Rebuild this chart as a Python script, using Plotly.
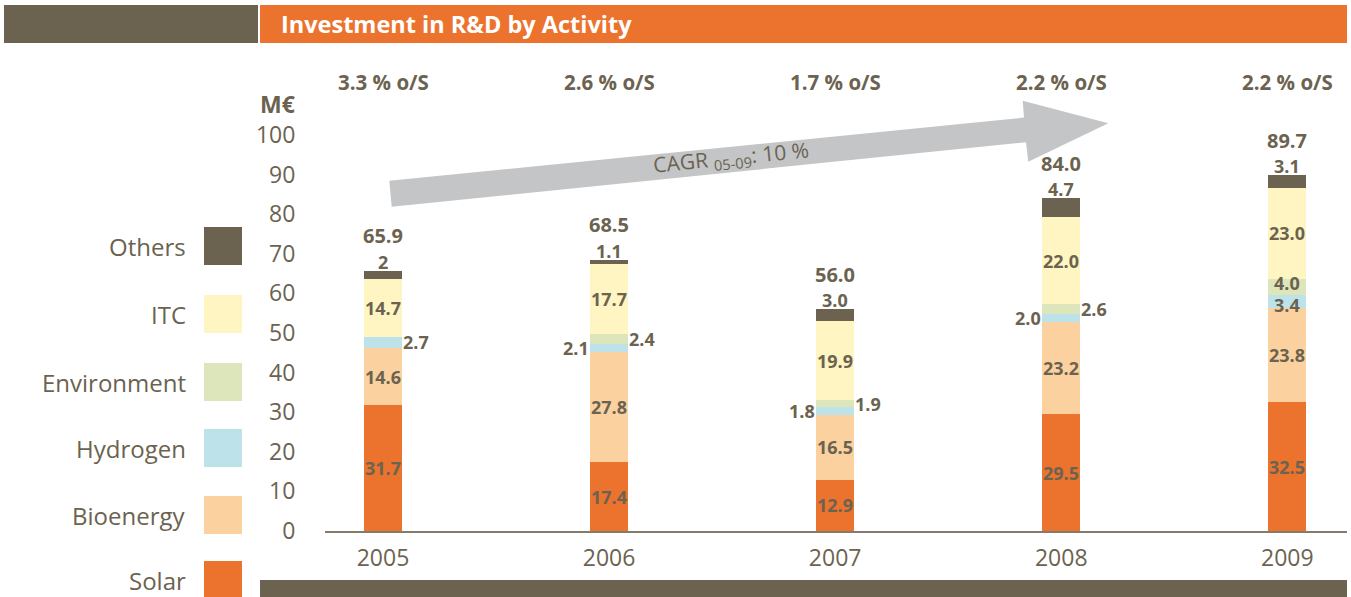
import plotly.graph_objects as go

years = ["2005", "2006", "2007", "2008", "2009"]
solar = [31.7, 17.4, 12.9, 29.5, 32.5]
bioenergy = [14.6, 27.8, 16.5, 23.2, 23.8]
hydrogen = [2.7, 2.1, 1.8, 2.0, 3.4]
environment = [0.0, 2.4, 1.9, 2.6, 4.0]
itc = [14.7, 17.7, 19.9, 22.0, 23.0]
others = [2.0, 1.1, 3.0, 4.7, 3.1]
others_labels = ["2", "1.1", "3.0", "4.7", "3.1"]
totals = [65.9, 68.5, 56.0, 84.0, 89.7]
share_of_sales = ["3.3 % o/S", "2.6 % o/S", "1.7 % o/S", "2.2 % o/S", "2.2 % o/S"]
cagr_text = "CAGR <sub>05-09</sub>: 10 %"
title = "Investment in R&D by Activity"

series = [
    ("Solar", solar, "#EC732E"),
    ("Bioenergy", bioenergy, "#FBD29F"),
    ("Hydrogen", hydrogen, "#BEE2E9"),
    ("Environment", environment, "#DDE6BB"),
    ("ITC", itc, "#FEF5C2"),
    ("Others", others, "#6B6350"),
]

TXT = "#6B6350"
FONT = "Open Sans"
W, H = 1351, 597


def px(x):
    return x / W


def py(y):
    return 1 - y / H


fig = go.Figure()
for name, vals, col in series:
    fig.add_trace(go.Bar(
        x=years, y=vals, name=name, marker_color=col, marker_line_width=0,
        width=0.168, showlegend=False, hoverinfo="x+y+name",
    ))

ann = []
shapes = []

# segment labels (category axis -> annotation x is the category index)
for i, yr in enumerate(years):
    base = 0.0
    cum = {}
    for name, vals, col in series:
        cum[name] = (base, base + vals[i])
        base += vals[i]
    top = base
    for name, vals, col in series:
        v = vals[i]
        if v <= 0 or name == "Others":
            continue
        lo, hi = cum[name]
        mid = (lo + hi) / 2
        if v >= 3:
            nudge = 0
            if v < 5 and name == "Hydrogen":
                nudge = -4
            elif v < 5 and name == "Environment":
                nudge = 4
            ann.append(dict(x=i, y=mid, xref="x", yref="y", text=f"{v:.1f}", yshift=nudge,
                            showarrow=False, yanchor="middle",
                            font=dict(family=FONT, size=18, color=TXT, weight="bold")))
        else:
            side = "left" if (name == "Hydrogen" and environment[i] > 0) else "right"
            ann.append(dict(x=i, y=mid, xref="x", yref="y", text=f"{v:.1f}",
                            showarrow=False, yanchor="middle",
                            xanchor="right" if side == "left" else "left",
                            xshift=-18 if side == "left" else 18,
                            font=dict(family=FONT, size=18, color=TXT, weight="bold")))
    ann.append(dict(x=i, y=top, xref="x", yref="y", text=others_labels[i], showarrow=False,
                    yanchor="middle", yshift=9,
                    font=dict(family=FONT, size=18, color=TXT, weight="bold")))
    ann.append(dict(x=i, y=top, xref="x", yref="y", text=f"{totals[i]:.1f}", showarrow=False,
                    yanchor="middle", yshift=35,
                    font=dict(family=FONT, size=20, color=TXT, weight="bold")))
    ann.append(dict(x=i, y=113.5, xref="x", yref="y", text=share_of_sales[i], showarrow=False,
                    yanchor="middle",
                    font=dict(family=FONT, size=20.5, color=TXT, weight="bold")))

# header bars and title
shapes.append(dict(type="rect", xref="paper", yref="paper", x0=px(4), x1=px(258), y0=py(43), y1=py(5),
                   fillcolor="#6B6350", line_width=0, layer="below"))
shapes.append(dict(type="rect", xref="paper", yref="paper", x0=px(260), x1=px(1347), y0=py(43), y1=py(5),
                   fillcolor="#EC732E", line_width=0, layer="below"))
ann.append(dict(x=px(279), y=py(24.5), xref="paper", yref="paper", text=title, showarrow=False,
                xanchor="left", yanchor="middle",
                font=dict(family=FONT, size=23.5, color="white", weight="bold")))
# bottom bar
shapes.append(dict(type="rect", xref="paper", yref="paper", x0=px(260), x1=px(1347), y0=py(597), y1=py(580),
                   fillcolor="#6B6350", line_width=0, layer="below"))

# CAGR arrow
pts = [(389.3, 180.7), (1024, 117.6), (1022.7, 100.7), (1108.3, 123.3),
       (1028.3, 161.7), (1026, 142.3), (391.7, 206.7)]
path = "M " + " L ".join(f"{px(x):.5f},{py(y):.5f}" for x, y in pts) + " Z"
shapes.append(dict(type="path", xref="paper", yref="paper", path=path,
                   fillcolor="#C4C5C7", line_width=0, layer="below"))
ann.append(dict(x=px(731), y=py(158), xref="paper", yref="paper", text=cagr_text, showarrow=False,
                xanchor="center", yanchor="middle",
                textangle=-5.7, font=dict(family=FONT, size=21, color=TXT)))

# M€ unit
ann.append(dict(x=px(297), y=py(104), xref="paper", yref="paper", text="M€", showarrow=False,
                xanchor="right", yanchor="middle",
                font=dict(family=FONT, size=23, color=TXT, weight="bold")))

# custom legend
leg_y = {"Others": 246, "ITC": 314, "Environment": 382, "Hydrogen": 448, "Bioenergy": 515, "Solar": 580}
for name, vals, col in series:
    yc = leg_y[name]
    shapes.append(dict(type="rect", xref="paper", yref="paper", x0=px(204), x1=px(242),
                       y0=py(yc + 19), y1=py(yc - 19), fillcolor=col, line_width=0))
    ann.append(dict(x=px(188), y=py(yc), xref="paper", yref="paper", text=name, showarrow=False,
                    xanchor="right", yanchor="middle", font=dict(family=FONT, size=24, color=TXT)))

fig.update_layout(
    width=W, height=H, autosize=False, margin=dict(l=0, r=0, t=0, b=0, pad=0),
    paper_bgcolor="white", plot_bgcolor="white",
    barmode="stack", bargap=0,
    annotations=ann, shapes=shapes,
    xaxis=dict(type="category", domain=[px(325), px(1347)], range=[-0.2566, 4.264],
               automargin=False,
               showline=True, linecolor="#857B68", linewidth=1.5, showgrid=False, zeroline=False,
               ticks="outside", ticklen=6, tickcolor="rgba(0,0,0,0)",
               tickfont=dict(family=FONT, size=23, color=TXT), fixedrange=True),
    yaxis=dict(domain=[py(531), py(36)], range=[0, 125], tickvals=list(range(0, 101, 10)),
               automargin=False,
               showline=False, showgrid=False, zeroline=False,
               ticks="outside", ticklen=24, tickcolor="rgba(0,0,0,0)",
               tickfont=dict(family=FONT, size=23, color=TXT), fixedrange=True),
    font=dict(family=FONT, color=TXT),
)

fig.write_html(
    "out.html",
    config={"responsive": False, "displayModeBar": False},
    post_script="document.body.style.margin='0';document.body.style.overflow='hidden';",
)
